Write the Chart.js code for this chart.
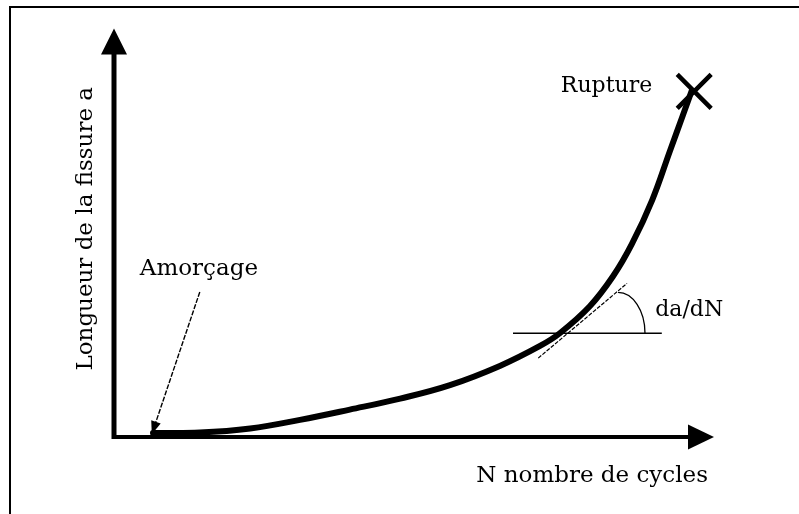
<!DOCTYPE html>
<html>
<head>
<meta charset="utf-8">
<script src="https://cdn.jsdelivr.net/npm/chart.js@4.4.1/dist/chart.umd.min.js"></script>
<style>
    html, body { margin: 0; padding: 0; background: #fff; }
    #wrap { width: 799px; height: 514px; }
</style>
</head>
<body>
<div id="wrap"><canvas id="crackChart" width="799" height="514"></canvas></div>
<script>
// Courbe de propagation a = f(N), unités arbitraires (0..100)
const cycles = [6.5, 14.3, 22.7, 31.0, 39.3, 47.7, 56.0, 64.3, 71.0, 74.3, 79.3, 83.2, 86.3, 89.7, 92.7, 94.8, 96.3];
const crackLength = [1.0, 1.1, 2.1, 4.2, 6.7, 9.4, 12.7, 17.4, 22.3, 25.4, 32.0, 39.4, 47.2, 58.0, 70.2, 78.7, 84.8];

// point de rupture (fin de courbe)
const rupture = [96.7, 84.6];

// tangente da/dN : niveau horizontal, segment tangent, arc d'angle
const tangentLevel = 25.4;
const levelSpan = [66.5, 91.3];
const tangentFrom = [70.7, 19.3];
const tangentTo = [85.5, 37.6];
const arcCenter = [84.0, 25.4];
const arcRadius = [4.5, 10.0];

// flèche d'amorçage
const initFrom = [14.3, 35.5];
const initTo = [6.3, 0.7];

// étiquettes
const labelRupture = { text: 'Rupture', at: [89.7, 84.4] };
const labelInit = { text: 'Amorçage', at: [4.3, 39.6] };
const labelSlope = { text: 'da/dN', at: [90.2, 29.6] };
const titleX = 'N nombre de cycles';
const titleY = 'Longueur de la fissure a';

const FONT = '22px "DejaVu Serif", serif';
const FONT_BIG = '23px "DejaVu Serif", serif';
const INK = '#000';

function arrowHead(ctx, tipX, tipY, angle, len, half) {
    ctx.save();
    ctx.translate(tipX, tipY);
    ctx.rotate(angle);
    ctx.beginPath();
    ctx.moveTo(0, 0);
    ctx.lineTo(-len, -half);
    ctx.lineTo(-len, half);
    ctx.closePath();
    ctx.fill();
    ctx.restore();
}

const diagramPlugin = {
    id: 'diagram',
    beforeDatasetsDraw(chart) {
        const { ctx, chartArea: area } = chart;
        ctx.save();
        ctx.strokeStyle = INK;
        ctx.fillStyle = INK;

        // cadre
        ctx.lineWidth = 2;
        ctx.strokeRect(10, 7, 900, 600);

        // axe des a
        ctx.lineWidth = 5;
        ctx.beginPath();
        ctx.moveTo(area.left, area.bottom + 2);
        ctx.lineTo(area.left, area.top + 20);
        ctx.stroke();
        arrowHead(ctx, area.left, area.top, -Math.PI / 2, 26, 13);

        // axe des N
        ctx.lineWidth = 4;
        ctx.beginPath();
        ctx.moveTo(area.left - 2, area.bottom);
        ctx.lineTo(area.right - 20, area.bottom);
        ctx.stroke();
        arrowHead(ctx, area.right, area.bottom, 0, 26, 12.5);

        // titres des axes
        ctx.font = FONT_BIG;
        ctx.textAlign = 'right';
        ctx.textBaseline = 'alphabetic';
        ctx.fillText(titleX, area.right - 6, area.bottom + 45);

        ctx.save();
        ctx.translate(area.left - 22, (area.top + area.bottom) / 2 - 4);
        ctx.rotate(-Math.PI / 2);
        ctx.textAlign = 'center';
        ctx.fillText(titleY, 0, 0);
        ctx.restore();

        ctx.restore();
    },
    afterDatasetsDraw(chart) {
        const { ctx } = chart;
        const sx = chart.scales.x, sy = chart.scales.y;
        const px = v => sx.getPixelForValue(v);
        const py = v => sy.getPixelForValue(v);

        ctx.save();
        ctx.strokeStyle = INK;
        ctx.fillStyle = INK;

        // horizontale de référence
        ctx.lineWidth = 1.5;
        ctx.beginPath();
        ctx.moveTo(px(levelSpan[0]), py(tangentLevel));
        ctx.lineTo(px(levelSpan[1]), py(tangentLevel));
        ctx.stroke();

        // tangente
        ctx.lineWidth = 1.2;
        ctx.setLineDash([4, 1.5]);
        ctx.beginPath();
        ctx.moveTo(px(tangentFrom[0]), py(tangentFrom[1]));
        ctx.lineTo(px(tangentTo[0]), py(tangentTo[1]));
        ctx.stroke();
        ctx.setLineDash([]);

        // arc d'angle
        const cx = px(arcCenter[0]), cy = py(arcCenter[1]);
        const rx = px(arcCenter[0] + arcRadius[0]) - cx;
        const ry = cy - py(arcCenter[1] + arcRadius[1]);
        ctx.lineWidth = 1.3;
        ctx.beginPath();
        ctx.ellipse(cx, cy, rx, ry, 0, -Math.PI / 2, 0);
        ctx.stroke();

        // flèche d'amorçage
        const ax0 = px(initFrom[0]), ay0 = py(initFrom[1]);
        const ax1 = px(initTo[0]), ay1 = py(initTo[1]);
        const ang = Math.atan2(ay1 - ay0, ax1 - ax0);
        ctx.lineWidth = 1.4;
        ctx.setLineDash([5, 1.5]);
        ctx.beginPath();
        ctx.moveTo(ax0, ay0);
        ctx.lineTo(ax1 - Math.cos(ang) * 8, ay1 - Math.sin(ang) * 8);
        ctx.stroke();
        ctx.setLineDash([]);
        arrowHead(ctx, ax1, ay1, ang, 13, 5);

        // étiquettes
        ctx.font = FONT;
        ctx.textBaseline = 'alphabetic';
        ctx.textAlign = 'right';
        ctx.fillText(labelRupture.text, px(labelRupture.at[0]), py(labelRupture.at[1]));
        ctx.textAlign = 'left';
        ctx.fillText(labelSlope.text, px(labelSlope.at[0]), py(labelSlope.at[1]));
        ctx.font = FONT_BIG;
        ctx.fillText(labelInit.text, px(labelInit.at[0]), py(labelInit.at[1]));

        ctx.restore();
    }
};

new Chart(document.getElementById('crackChart'), {
    type: 'scatter',
    data: {
        datasets: [{
            label: 'a(N)',
            data: cycles.map((n, i) => ({ x: n, y: crackLength[i] })),
            showLine: true,
            borderColor: INK,
            borderWidth: 6,
            borderCapStyle: 'round',
            tension: 0.4,
            pointRadius: 0,
            fill: false
        }, {
            label: 'Rupture',
            data: [{ x: rupture[0], y: rupture[1] }],
            pointStyle: 'crossRot',
            pointRadius: 24,
            pointBorderWidth: 4.5,
            pointBorderColor: INK,
            showLine: false
        }]
    },
    options: {
        responsive: false,
        animation: false,
        layout: { padding: { left: 114, top: 28, right: 85, bottom: 77 } },
        scales: {
            x: { type: 'linear', min: 0, max: 100, display: false },
            y: { type: 'linear', min: 0, max: 100, display: false }
        },
        plugins: {
            legend: { display: false },
            tooltip: { enabled: false }
        }
    },
    plugins: [diagramPlugin]
});
</script>
</body>
</html>
